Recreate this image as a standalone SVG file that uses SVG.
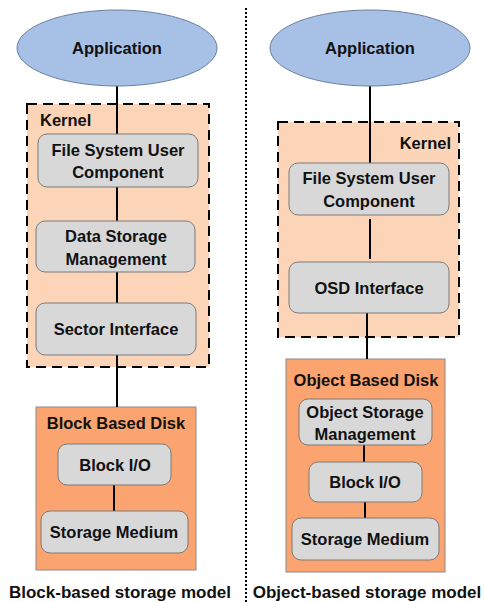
<svg xmlns="http://www.w3.org/2000/svg" width="485" height="602" viewBox="0 0 485 602">
<style>
text{font-family:"Liberation Sans",Arial,sans-serif;font-weight:bold;fill:#111;text-anchor:middle;dominant-baseline:central}
.t{font-size:16.5px}
.cap{font-size:17px}
.app{fill:#A7C0E6;stroke:#6A7E9E;stroke-width:1}
.kern{fill:#FCD5B9;stroke:#000;stroke-width:2;stroke-dasharray:10,6}
.disk{fill:#FBA46F;stroke:#8a8a8a;stroke-width:1}
.box{fill:#D8D8D8;stroke:#7A7A7A;stroke-width:1}
.c{stroke:#000;stroke-width:2;fill:none}
</style>
<rect width="485" height="602" fill="#fff"/>
<line x1="246" y1="8" x2="246" y2="602" stroke="#000" stroke-width="2" stroke-dasharray="2,2"/>
<g id="left-kernel"><rect class="kern" x="27" y="104" width="182" height="263"/><text class="t" x="40" y="120" style="text-anchor:start">Kernel</text></g>
<g id="left-disk"><rect class="disk" x="36" y="407" width="160" height="163"/><text class="t" x="116" y="423">Block Based Disk</text></g>
<g id="right-kernel"><rect class="kern" x="278" y="122" width="181" height="215"/><text class="t" x="451" y="143" style="text-anchor:end">Kernel</text></g>
<g id="right-disk"><rect class="disk" x="286" y="359" width="159" height="213"/><text class="t" x="366" y="380">Object Based Disk</text></g>
<g id="connectors">
<line class="c" x1="117" y1="86" x2="117" y2="134"/>
<line class="c" x1="117" y1="187" x2="117" y2="221"/>
<line class="c" x1="117" y1="272" x2="117" y2="303"/>
<line class="c" x1="117" y1="355" x2="117" y2="407"/>
<line class="c" x1="114" y1="485" x2="114" y2="511"/>
<line class="c" x1="370" y1="86" x2="370" y2="163"/>
<line class="c" x1="370" y1="219" x2="370" y2="259"/>
<line class="c" x1="367" y1="313" x2="367" y2="359"/>
<line class="c" x1="364" y1="445" x2="364" y2="462"/>
<line class="c" x1="365" y1="502" x2="365" y2="518"/>
</g>
<g id="left-app"><ellipse class="app" cx="117" cy="48" rx="100" ry="38"/><text class="t" x="117" y="48">Application</text></g>
<g id="left-fs"><rect class="box" x="38" y="134" width="160" height="53" rx="9"/><text class="t" x="118" y="150">File System User</text><text class="t" x="118" y="172">Component</text></g>
<g id="left-dsm"><rect class="box" x="36" y="221" width="159" height="51" rx="9"/><text class="t" x="116" y="236">Data Storage</text><text class="t" x="116" y="259">Management</text></g>
<g id="left-sector"><rect class="box" x="36" y="303" width="160" height="52" rx="9"/><text class="t" x="116" y="329">Sector Interface</text></g>
<g id="left-blockio"><rect class="box" x="58" y="444" width="113" height="41" rx="9"/><text class="t" x="115" y="465">Block I/O</text></g>
<g id="left-medium"><rect class="box" x="41" y="511" width="147" height="42" rx="9"/><text class="t" x="114" y="532">Storage Medium</text></g>
<g id="right-app"><ellipse class="app" cx="370" cy="48" rx="100" ry="38"/><text class="t" x="370" y="48">Application</text></g>
<g id="right-fs"><rect class="box" x="289" y="163" width="160" height="52" rx="9"/><text class="t" x="369" y="178">File System User</text><text class="t" x="369" y="201">Component</text></g>
<g id="right-osd"><rect class="box" x="289" y="262" width="160" height="51" rx="9"/><text class="t" x="369" y="288">OSD Interface</text></g>
<g id="right-osm"><rect class="box" x="299" y="399" width="133" height="46" rx="9"/><text class="t" x="365" y="412">Object Storage</text><text class="t" x="365" y="434">Management</text></g>
<g id="right-blockio"><rect class="box" x="309" y="462" width="113" height="40" rx="9"/><text class="t" x="365" y="482">Block I/O</text></g>
<g id="right-medium"><rect class="box" x="292" y="518" width="147" height="42" rx="9"/><text class="t" x="365" y="539">Storage Medium</text></g>
<text class="cap" x="120" y="592">Block-based storage model</text>
<text class="cap" x="367" y="592">Object-based storage model</text>
</svg>
